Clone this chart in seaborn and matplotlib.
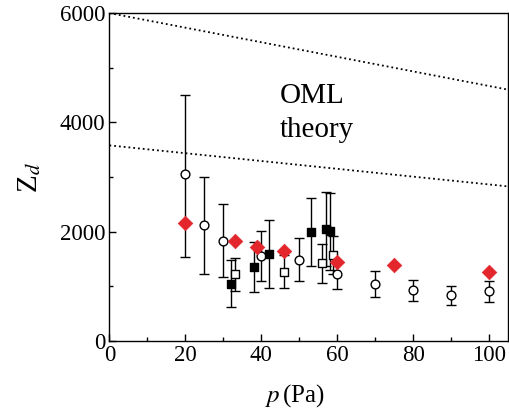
import numpy as np
import pandas as pd
import matplotlib
matplotlib.use('Agg')
import matplotlib.pyplot as plt
import seaborn as sns
from matplotlib.ticker import MultipleLocator

# --- Data ---
circ_p = [20, 25, 30, 40, 50, 60, 70, 80, 90, 100]
circ_z = [3050, 2120, 1840, 1555, 1490, 1220, 1050, 930, 840, 910]
circ_lo = [1530, 1230, 1180, 1100, 1095, 950, 810, 730, 655, 720]
circ_hi = [4500, 3010, 2500, 2020, 1880, 1440, 1290, 1125, 1010, 1100]

fsq_p = [32, 38, 42, 53, 57, 58]
fsq_z = [1050, 1350, 1600, 2000, 2050, 2005]
fsq_lo = [620, 895, 980, 1375, 1380, 1300]
fsq_hi = [1490, 1820, 2215, 2625, 2720, 2700]

osq_p = [33, 46, 56, 59]
osq_z = [1220, 1270, 1420, 1570]
osq_lo = [910, 965, 1070, 1230]
osq_hi = [1520, 1570, 1770, 1930]

dia_p = [20, 33, 39, 46, 60, 75, 100]
dia_z = [2165, 1830, 1720, 1640, 1440, 1390, 1260]

theory_p = [0, 105]
theory_hi = [6000, 4600]
theory_lo = [3580, 2830]

RED = '#e2262c'

# --- Style ---
sns.set_style('ticks', {'axes.edgecolor': 'black', 'text.color': 'black',
                        'axes.labelcolor': 'black', 'xtick.color': 'black',
                        'ytick.color': 'black'})
plt.rcParams['font.family'] = ['Liberation Serif', 'DejaVu Serif']
plt.rcParams['mathtext.fontset'] = 'stix'

fig = plt.figure(figsize=(5.09, 4.09), dpi=100)
ax = fig.add_axes([0.215, 0.166, 0.783, 0.802])

# theory lines
theory = pd.DataFrame({'p': theory_p, 'hi': theory_hi, 'lo': theory_lo})
sns.lineplot(data=theory, x='p', y='hi', ax=ax, color='black', linestyle=':', linewidth=1.3)
sns.lineplot(data=theory, x='p', y='lo', ax=ax, color='black', linestyle=':', linewidth=1.3)

# error bars
def bars(p, z, lo, hi):
    z = np.array(z)
    err = [z - np.array(lo), np.array(hi) - z]
    ax.errorbar(p, z, yerr=err, fmt='none', ecolor='black', elinewidth=1.0,
                capsize=3.8, capthick=1.0, zorder=2)

bars(circ_p, circ_z, circ_lo, circ_hi)
bars(fsq_p, fsq_z, fsq_lo, fsq_hi)
bars(osq_p, osq_z, osq_lo, osq_hi)

sns.scatterplot(x=circ_p, y=circ_z, ax=ax, marker='o', s=40, facecolor='white',
                edgecolor='black', linewidth=1.0, zorder=3)
sns.scatterplot(x=osq_p, y=osq_z, ax=ax, marker='s', s=34, facecolor='white',
                edgecolor='black', linewidth=1.0, zorder=3)
sns.scatterplot(x=fsq_p, y=fsq_z, ax=ax, marker='s', s=34, color='black',
                edgecolor='black', linewidth=1.0, zorder=4)
sns.scatterplot(x=dia_p, y=dia_z, ax=ax, marker='D', s=55, color=RED,
                edgecolor=RED, linewidth=0.5, zorder=5)

ax.text(53.5, 4480, 'OML', ha='center', va='center', fontsize=21)
ax.text(54.7, 3870, 'theory', ha='center', va='center', fontsize=21)

ax.set_xlim(0, 105)
ax.set_ylim(0, 6000)
ax.xaxis.set_major_locator(MultipleLocator(20))
ax.xaxis.set_minor_locator(MultipleLocator(10))
ax.yaxis.set_major_locator(MultipleLocator(2000))
ax.yaxis.set_minor_locator(MultipleLocator(1000))
ax.tick_params(which='both', direction='in', width=1.0, labelsize=16.5, pad=3)
ax.tick_params(which='major', length=5)
ax.tick_params(which='minor', length=3)
for s in ax.spines.values():
    s.set_linewidth(1.0)

ax.set_xlabel(r'$p\,$(Pa)', fontsize=18)
ax.xaxis.set_label_coords(0.465, -0.125)
ax.set_ylabel(r'Z$_d$', fontsize=21, labelpad=12)

fig.savefig('out.png', dpi=100)
